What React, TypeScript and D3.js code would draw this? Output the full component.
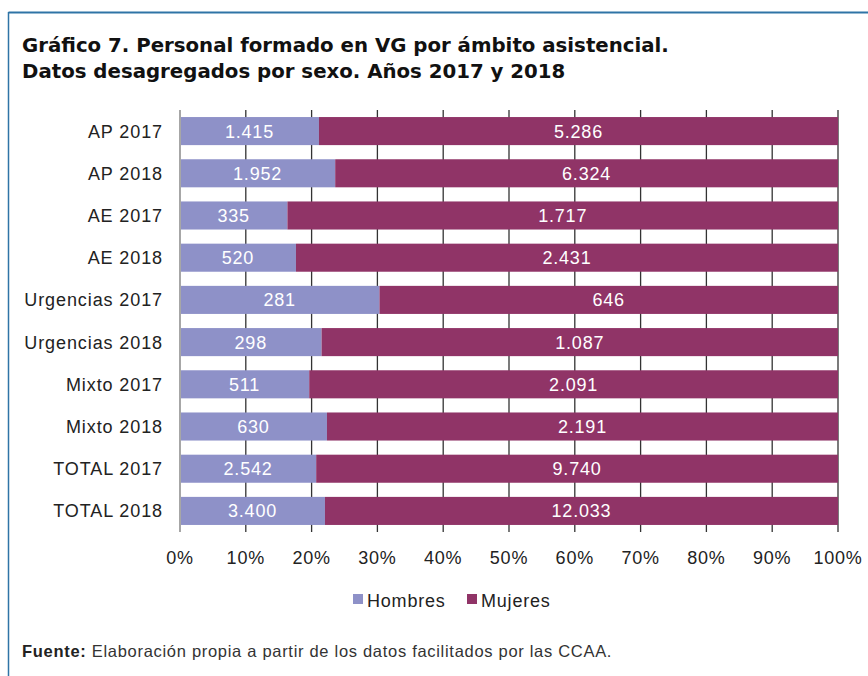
import React from "react";
import * as d3 from "d3";

const categories = ["AP 2017", "AP 2018", "AE 2017", "AE 2018", "Urgencias 2017", "Urgencias 2018", "Mixto 2017", "Mixto 2018", "TOTAL 2017", "TOTAL 2018"];
const hombres = [1415, 1952, 335, 520, 281, 298, 511, 630, 2542, 3400];
const mujeres = [5286, 6324, 1717, 2431, 646, 1087, 2091, 2191, 9740, 12033];
const seriesNames = ["Hombres", "Mujeres"];
const seriesColors = ["#8e91c8", "#903467"];
const xTicks = [0, 0.1, 0.2, 0.3, 0.4, 0.5, 0.6, 0.7, 0.8, 0.9, 1];

const W = 868, H = 676;
const FONT = "'Liberation Sans', Arial, Helvetica, sans-serif";
const TFONT = "'DejaVu Sans', sans-serif";

const fmt = (v: number) => d3.format(",")(v).replace(/,/g, ".");

export default function App() {
  const x = d3.scaleLinear().domain([0, 1]).range([180, 838]);
  const y = d3.scaleBand<string>().domain(categories).range([110, 532]).paddingInner(0.335).paddingOuter(0.167);
  const bh = y.bandwidth();
  const rows = categories.map((c, i) => {
    const tot = hombres[i] + mujeres[i];
    return { c, h: hombres[i], m: mujeres[i], ph: hombres[i] / tot };
  });
  return (
    <svg width={W} height={H} style={{ position: "absolute", left: 0, top: 0, background: "#fff" }} fontFamily={FONT}>
      <rect x={0} y={0} width={W} height={H} fill="#fff" />
      <line x1={8.5} x2={W} y1={12.5} y2={12.5} stroke="#2f74a6" strokeWidth={2} />
      <line x1={8.5} x2={8.5} y1={12} y2={H} stroke="#2f74a6" strokeWidth={1.5} />
      <text x={22} y={52} fontSize={19.75} fontWeight="bold" fontFamily={TFONT} fill="#111">Gráfico 7. Personal formado en VG por ámbito asistencial.</text>
      <text x={22} y={78} fontSize={19.75} fontWeight="bold" fontFamily={TFONT} fill="#111">Datos desagregados por sexo. Años 2017 y 2018</text>
      {xTicks.map((t) => (
        <line key={t} x1={x(t)} x2={x(t)} y1={110} y2={532} stroke={t === 0 ? "#777" : "#333"} strokeWidth={1.3} />
      ))}
      {rows.map((r) => {
        const yy = y(r.c)!;
        const xm = x(r.ph);
        return (
          <g key={r.c}>
            <rect x={x(0) + 1} y={yy} width={xm - x(0) - 1} height={bh} fill={seriesColors[0]} />
            <rect x={xm} y={yy} width={x(1) - xm} height={bh} fill={seriesColors[1]} />
            <text x={(x(0) + xm) / 2} y={yy + bh / 2 + 6.5} textAnchor="middle" fontSize={18} letterSpacing={0.8} fill="#fff">{fmt(r.h)}</text>
            <text x={(xm + x(1)) / 2} y={yy + bh / 2 + 6.5} textAnchor="middle" fontSize={18} letterSpacing={0.8} fill="#fff">{fmt(r.m)}</text>
            <text x={163} y={yy + bh / 2 + 6.5} textAnchor="end" fontSize={18} letterSpacing={0.9} fill="#222">{r.c}</text>
          </g>
        );
      })}
      {xTicks.map((t) => (
        <text key={"l" + t} x={x(t)} y={564} textAnchor="middle" fontSize={18} letterSpacing={0.8} fill="#222">{d3.format(".0%")(t)}</text>
      ))}
      {seriesNames.map((s, i) => {
        const lx = i === 0 ? 353 : 467;
        return (
          <g key={s}>
            <rect x={lx} y={594} width={10} height={10} fill={seriesColors[i]} />
            <text x={lx + 14} y={607} fontSize={18} letterSpacing={0.8} fill="#222">{s}</text>
          </g>
        );
      })}
      <text x={22} y={657} fontSize={16.5} letterSpacing={0.7} fill="#333">
        <tspan fontWeight="bold" fill="#222">Fuente:</tspan> Elaboración propia a partir de los datos facilitados por las CCAA.
      </text>
    </svg>
  );
}
